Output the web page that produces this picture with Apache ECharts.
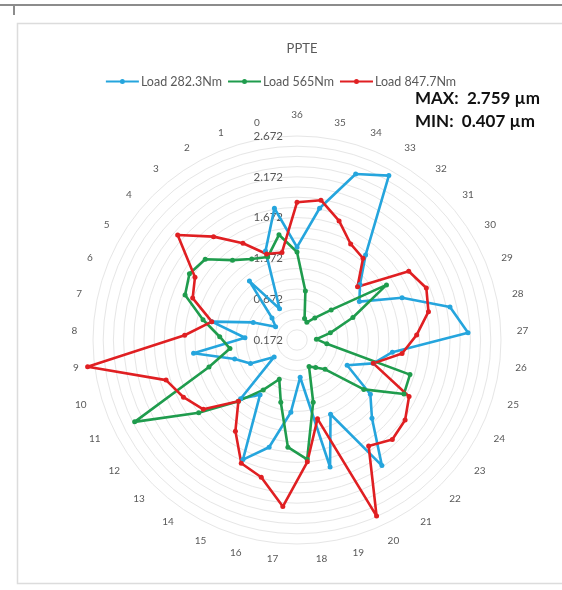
<!DOCTYPE html>
<html>
<head>
<meta charset="utf-8">
<script src="https://cdn.jsdelivr.net/npm/echarts@6/dist/echarts.min.js"></script>
<style>
html,body{margin:0;padding:0;background:#fff;}
#c{width:562px;height:590px;}
</style>
</head>
<body>
<div id="c"></div>
<script>
// Categories in drawing order (counter-clockwise from top)
const categories = ['36','0','1','2','3','4','5','6','7','8','9','10','11','12','13','14','15','16','17','18','19','20','21','22','23','24','25','26','27','28','29','30','31','32','33','34','35'];
const radialTicks = [0.172, 0.672, 1.172, 1.672, 2.172, 2.672];
const seriesNames = ['Load 282.3Nm', 'Load 565Nm', 'Load 847.7Nm'];
// values in the same order as categories
const load282 = [1.31,1.81,1.33,0.61,1.10,0.58,0.48,0.75,1.24,0.81,1.45,0.97,0.81,0.52,1.17,0.98,1.78,1.53,1.06,0.63,1.78,1.17,2.03,1.50,1.29,0.86,1.15,1.35,2.27,2.09,1.56,1.07,1.20,1.51,2.48,2.33,1.81];
const load565 = [1.25,1.48,1.25,1.31,1.43,1.67,1.72,1.65,1.35,1.12,1.00,1.30,2.40,1.67,1.21,0.91,0.70,0.96,1.49,1.64,0.96,0.53,0.58,0.67,1.19,1.64,1.62,0.54,0.41,0.59,0.91,1.46,0.73,0.52,0.42,0.45,0.78];
const load847 = [1.86,1.26,1.29,1.53,1.80,2.12,1.64,1.55,1.24,1.55,2.759,1.85,1.73,1.60,1.21,1.52,1.83,1.91,2.22,1.67,1.17,2.54,1.74,1.86,1.82,1.71,1.15,1.47,1.64,1.82,1.88,1.78,1.16,1.46,1.52,1.72,1.91];
const colors = ['#25A5DD', '#1F9C4D', '#E01F22'];
const textMax = 'MAX:  2.759 µm';
const textMin = 'MIN:  0.407 µm';

const FONT = 'Lato, "Open Sans", sans-serif';
const chart = echarts.init(document.getElementById('c'), null, {renderer: 'canvas'});
const allData = [load282, load565, load847];
// legend icon: a line with a round marker in the middle
const lineIcon = 'path://M0,2.6 H14.3 V4.4 H0 Z M18.7,2.6 H33 V4.4 H18.7 Z M14,3.5 A2.5,2.5 0 1,1 19,3.5 A2.5,2.5 0 1,1 14,3.5 Z';
const option = {
  backgroundColor: '#ffffff',
  animation: false,
  title: {
    text: 'PPTE', left: 297, top: 37, textAlign: 'center',
    textStyle: {fontSize: 13, fontWeight: 'normal', color: '#595959', fontFamily: FONT}
  },
  legend: {
    data: seriesNames.map(n => ({name: n, icon: lineIcon})), top: 70, left: 'center', itemGap: 6,
    itemWidth: 33, itemHeight: 7,
    textStyle: {fontSize: 12.5, color: '#595959', fontFamily: FONT, padding: [0,0,0,-3]}
  },
  radar: {
    center: [297, 340], radius: 204, startAngle: 90, shape: 'circle',
    splitNumber: 20,
    indicator: categories.map(c => ({name: c, min: radialTicks[0], max: radialTicks[radialTicks.length-1]})),
    axisName: {color: '#595959', fontSize: 10, fontFamily: FONT},
    nameGap: 16,
    axisLine: {show: false},
    axisTick: {show: false},
    axisLabel: {show: false},
    splitLine: {lineStyle: {color: '#e6e6e6', width: 1}},
    splitArea: {show: false}
  },
  polar: {center: [297, 340], radius: 204},
  angleAxis: {type: 'value', startAngle: 90, min: 0, max: 360, show: false},
  radiusAxis: {
    type: 'value', min: radialTicks[0], max: radialTicks[radialTicks.length-1], interval: 0.5,
    axisLine: {show: false}, axisTick: {show: false}, splitLine: {show: false},
    axisLabel: {show: true, formatter: v => v.toFixed(3), color: '#595959', fontSize: 11.5, fontFamily: FONT, margin: 14}
  },
  series: [{
    type: 'radar',
    symbol: 'circle', symbolSize: 5,
    data: seriesNames.map((n, i) => ({
      name: n, value: allData[i],
      lineStyle: {color: colors[i], width: 2.6},
      itemStyle: {color: colors[i]}
    }))
  }],
  color: colors,
  graphic: [
    {type: 'line', shape: {x1: 0, y1: 5, x2: 562, y2: 5}, style: {stroke: '#8c8c8c', lineWidth: 2}},
    {type: 'line', shape: {x1: 14, y1: 5, x2: 14, y2: 15}, style: {stroke: '#8c8c8c', lineWidth: 2}},
    {type: 'rect', shape: {x: 17.5, y: 23.5, width: 560, height: 560}, style: {fill: 'none', stroke: '#dcdcdc', lineWidth: 1.5}},
    {type: 'text', left: 415, top: 90, style: {text: textMax, fontSize: 17, fontWeight: 'bold', fill: '#111', fontFamily: FONT}},
    {type: 'text', left: 415, top: 113, style: {text: textMin, fontSize: 17, fontWeight: 'bold', fill: '#111', fontFamily: FONT}}
  ]
};
chart.setOption(option);
</script>
</body>
</html>
